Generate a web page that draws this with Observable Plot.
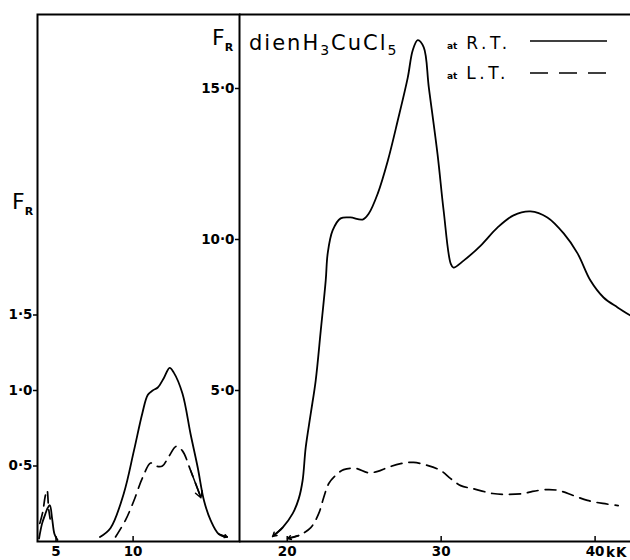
<!DOCTYPE html>
<html><head><meta charset="utf-8">
<script src="https://cdn.jsdelivr.net/npm/d3@7"></script>
<script src="https://cdn.jsdelivr.net/npm/@observablehq/plot@0.6"></script>
<style>
body{margin:0;background:#fff;}
#wrap{position:relative;width:630px;height:560px;overflow:hidden;font-family:"DejaVu Sans",sans-serif;color:#000;background:#fff;}
#wrap svg{position:absolute;top:0;overflow:visible;background:transparent;}
.lbl{position:absolute;white-space:nowrap;line-height:1;}
</style></head><body><div id="wrap"></div>
<script>
// ---- data (x in kK, y = F_R) ----
const xDomainLeft = [3.8, 16.9];
const yDomainLeft = [0, 3.49];
const xDomainRight = [16.9, 42.3];
const yDomainRight = [0, 17.45];
const xTicksLeft = [5, 10];
const xTicksRight = [20, 30, 40];
const yTicksLeft = [0.5, 1.0, 1.5];
const yTicksRight = [5, 10, 15];

// left panel, room temperature (solid)
const rtSmall = [[3.9,0.02],[4.1,0.12],[4.3,0.18],[4.45,0.22],[4.6,0.24],[4.75,0.15],[4.9,0.05],[5.1,0.01]];
const rtLeft = [[7.85,0.03],[8.54,0.09],[9.4,0.32],[10.05,0.6],[10.6,0.85],[10.95,0.97],[11.27,1.0],[11.6,1.02],[11.98,1.08],[12.37,1.15],[12.63,1.12],[13.2,0.98],[13.73,0.71],[14.19,0.49],[14.6,0.27],[15.03,0.14],[15.55,0.05],[16.1,0.03]];
// left panel, low temperature (dashed)
const ltSmall = [[3.95,0.12],[4.15,0.2],[4.3,0.3],[4.42,0.34],[4.52,0.22],[4.62,0.15]];
const ltLeft = [[8.86,0.03],[9.5,0.14],[10.05,0.27],[10.6,0.42],[11.14,0.52],[11.46,0.5],[11.9,0.5],[12.3,0.56],[12.8,0.63],[13.2,0.6],[13.73,0.47],[14.4,0.29]];
// right panel
const rtRight = [[19.06,0.17],[19.7,0.46],[20.36,0.93],[20.75,1.42],[21.0,2.02],[21.2,3.11],[21.53,4.24],[21.85,5.33],[22.18,6.99],[22.5,8.64],[22.63,9.54],[22.95,10.3],[23.47,10.7],[24.1,10.73],[24.9,10.66],[25.3,10.86],[25.88,11.52],[26.53,12.6],[27.18,13.94],[27.83,15.36],[28.15,16.26],[28.48,16.6],[28.87,16.36],[29.2,15.03],[29.77,12.8],[30.16,10.96],[30.62,9.2],[30.8,9.07],[31.46,9.3],[32.57,9.8],[33.67,10.4],[34.7,10.8],[35.8,10.93],[36.9,10.73],[37.96,10.2],[38.86,9.54],[39.7,8.64],[40.55,8.08],[41.46,7.75],[42.3,7.48]];
const ltRight = [[20.03,0.1],[20.75,0.2],[21.53,0.46],[22.05,0.93],[22.37,1.46],[22.7,1.92],[23.15,2.19],[23.67,2.38],[24.45,2.42],[25.23,2.28],[25.88,2.32],[26.53,2.45],[27.37,2.58],[28.2,2.62],[29.1,2.52],[29.97,2.35],[30.62,2.08],[31.27,1.85],[32.05,1.75],[33.35,1.59],[34.06,1.56],[35.36,1.59],[35.94,1.66],[36.92,1.72],[37.63,1.69],[38.6,1.52],[39.5,1.36],[40.5,1.26],[41.5,1.19]];

const fmt = d => d3.format(".1f")(d).replace(".", "\u00b7");
const X = d => d[0], Y = d => d[1];
const solid = {x: X, y: Y, curve: "catmull-rom", strokeWidth: 1.8, stroke: "#000"};
const dashed = {...solid, strokeWidth: 1.7, strokeDasharray: "11,7"};
const arrowOpts = {x1: d => d[0][0], y1: d => d[0][1], x2: d => d[1][0], y2: d => d[1][1], headLength: 7, strokeWidth: 1.5, stroke: "#000"};
const baseStyle = {fontFamily: "DejaVu Sans, sans-serif", fontSize: "13.5px", fontWeight: "bold", background: "transparent", overflow: "visible", color: "#000"};

const left = Plot.plot({
  width: 239, height: 560, marginLeft: 37, marginRight: 0, marginTop: 14, marginBottom: 19,
  x: {domain: xDomainLeft}, y: {domain: yDomainLeft},
  style: baseStyle,
  marks: [
    Plot.axisY({ticks: yTicksLeft, tickFormat: fmt, tickSize: 4, tickPadding: 1, label: null, strokeWidth: 1.5}),
    Plot.axisX({ticks: xTicksLeft, tickSize: 0, tickPadding: 5, label: null}),
    Plot.ruleX(xTicksLeft, {y1: 0, y2: 0, insetTop: -5, strokeWidth: 1.5}),
    Plot.frame({strokeWidth: 2, stroke: "#000"}),
    Plot.line(rtSmall, solid),
    Plot.line(ltSmall, dashed),
    Plot.line(rtLeft, solid),
    Plot.line(ltLeft, dashed),
    Plot.arrow([[ltLeft[ltLeft.length-2], ltLeft[ltLeft.length-1]]], arrowOpts),
    Plot.arrow([[rtLeft[rtLeft.length-2], rtLeft[rtLeft.length-1]]], arrowOpts)
  ]
});

const right = Plot.plot({
  width: 391, height: 560, marginLeft: 0, marginRight: 0, marginTop: 14, marginBottom: 19,
  x: {domain: xDomainRight}, y: {domain: yDomainRight},
  style: baseStyle,
  marks: [
    Plot.axisY({ticks: yTicksRight, tickFormat: fmt, tickSize: 4, tickPadding: 1, label: null, strokeWidth: 1.5}),
    Plot.axisX({ticks: xTicksRight, tickSize: 0, tickPadding: 5, label: null}),
    Plot.ruleX(xTicksRight, {y1: 0, y2: 0, insetTop: -5, strokeWidth: 1.5}),
    Plot.ruleY([0, yDomainRight[1]], {strokeWidth: 2, stroke: "#000"}),
    Plot.line(rtRight, solid),
    Plot.line(ltRight, dashed),
    Plot.arrow([[rtRight[1], rtRight[0]]], arrowOpts),
    Plot.arrow([[ltRight[1], ltRight[0]]], arrowOpts)
  ]
});
right.style.left = "239px";
left.style.left = "0px";

const wrap = document.getElementById("wrap");
wrap.appendChild(left);
wrap.appendChild(right);

function addLabel(html, x, y, extra) {
  const d = document.createElement("div");
  d.className = "lbl";
  d.style.left = x + "px";
  d.style.top = y + "px";
  if (extra) Object.assign(d.style, extra);
  d.innerHTML = html;
  wrap.appendChild(d);
}
const FR = '<span style="font-size:22px">F</span><span style="font-size:11px;font-weight:bold;position:relative;top:6px">R</span>';
addLabel(FR, 12, 191);
addLabel(FR, 212, 27);
addLabel('dienH<sub style="font-size:14px">3</sub>CuCl<sub style="font-size:14px">5</sub>', 249, 33, {fontSize: "21px", letterSpacing: "2px"});
addLabel('<span style="font-size:9px;font-weight:bold;letter-spacing:0">at</span> R.T.', 447, 35, {fontSize: "17px", letterSpacing: "3.5px"});
addLabel('<span style="font-size:9px;font-weight:bold;letter-spacing:0">at</span> L.T.', 447, 65, {fontSize: "17px", letterSpacing: "3.5px"});
addLabel('kK', 606, 546, {fontSize: "13.5px", fontWeight: "bold", letterSpacing: "1px"});
// legend samples
const leg = document.createElementNS("http://www.w3.org/2000/svg", "svg");
leg.setAttribute("width", 630); leg.setAttribute("height", 560);
leg.style.left = "0px";
leg.innerHTML = '<line x1="530" x2="607" y1="41" y2="41" stroke="#000" stroke-width="1.7"/>' +
  '<line x1="530" x2="608" y1="73" y2="73" stroke="#000" stroke-width="1.7" stroke-dasharray="18,11"/>';
wrap.appendChild(leg);
</script>
</body></html>
